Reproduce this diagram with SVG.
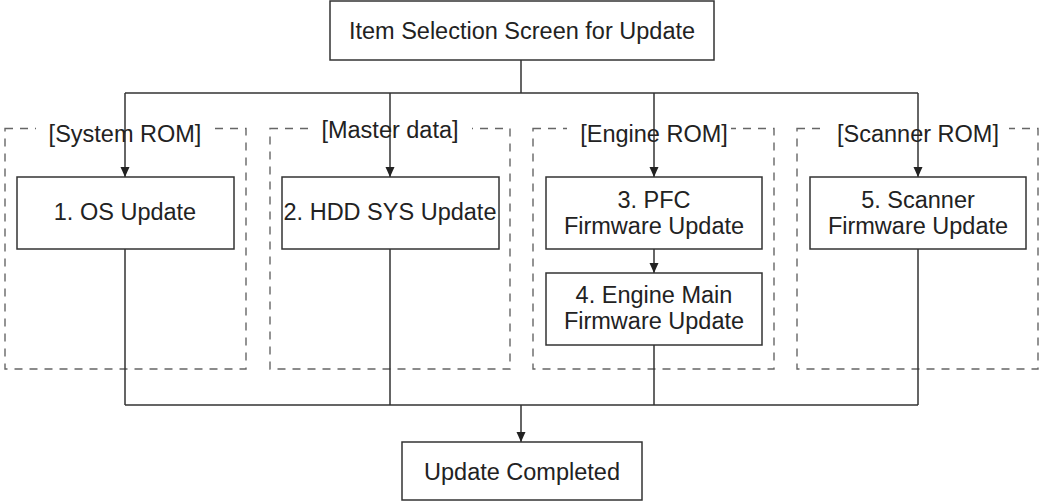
<svg xmlns="http://www.w3.org/2000/svg" width="1040" height="502" viewBox="0 0 1040 502">
<style>
.box{fill:#fff;stroke:#333;stroke-width:1.5}
.grp{fill:none;stroke:#666;stroke-width:1.4;stroke-dasharray:8 7}
.mask{fill:#fff;stroke:none}
.ln{fill:none;stroke:#333;stroke-width:1.5}
text{font-family:"Liberation Sans",Arial,sans-serif;font-size:23.5px;fill:#222;text-anchor:middle}
</style>
<defs>
<marker id="ah" markerUnits="userSpaceOnUse" markerWidth="10" markerHeight="10" refX="10" refY="4.5" orient="auto">
<path d="M0,0 L10,4.5 L0,9 Z" fill="#222"/>
</marker>
</defs>
<rect width="1040" height="502" fill="#fff"/>
<g id="groups">
<rect class="grp" x="5" y="128.5" width="241" height="240.5"/>
<rect class="grp" x="270" y="128.5" width="240" height="240.5"/>
<rect class="grp" x="533" y="128.5" width="241" height="240.5"/>
<rect class="grp" x="797" y="128.5" width="241" height="240.5"/>
<rect class="mask" x="36" y="124" width="174" height="10"/>
<rect class="mask" x="314" y="124" width="158" height="10"/>
<rect class="mask" x="567" y="124" width="164" height="10"/>
<rect class="mask" x="824" y="124" width="185" height="10"/>
</g>
<g id="connectors">
<path class="ln" d="M521,60 V93 M125,93 H918"/>
<path class="ln" d="M125,93 V177" marker-end="url(#ah)"/>
<path class="ln" d="M390,93 V177" marker-end="url(#ah)"/>
<path class="ln" d="M654,93 V177" marker-end="url(#ah)"/>
<path class="ln" d="M918,93 V177" marker-end="url(#ah)"/>
<path class="ln" d="M654,249 V273" marker-end="url(#ah)"/>
<path class="ln" d="M125,249 V405 M390,249 V405 M654,345 V405 M918,249 V405 M125,405 H918"/>
<path class="ln" d="M521,405 V442" marker-end="url(#ah)"/>
</g>
<g id="labels">
<text x="125" y="142">[System ROM]</text>
<text x="390" y="138">[Master data]</text>
<text x="654" y="142">[Engine ROM]</text>
<text x="918" y="142">[Scanner ROM]</text>
</g>
<g id="n-start">
<rect class="box" x="330" y="1" width="384" height="59"/>
<text x="522" y="39">Item Selection Screen for Update</text>
</g>
<g id="n-os">
<rect class="box" x="17" y="177" width="217" height="72"/>
<text x="125" y="220">1. OS Update</text>
</g>
<g id="n-hdd">
<rect class="box" x="282" y="177" width="217" height="72"/>
<text x="390" y="220">2. HDD SYS Update</text>
</g>
<g id="n-pfc">
<rect class="box" x="546" y="177" width="216" height="72"/>
<text x="654" y="208">3. PFC</text>
<text x="654" y="234">Firmware Update</text>
</g>
<g id="n-engine">
<rect class="box" x="546" y="273" width="216" height="72"/>
<text x="654" y="303">4. Engine Main</text>
<text x="654" y="329">Firmware Update</text>
</g>
<g id="n-scanner">
<rect class="box" x="810" y="177" width="216" height="72"/>
<text x="918" y="208">5. Scanner</text>
<text x="918" y="234">Firmware Update</text>
</g>
<g id="n-done">
<rect class="box" x="402" y="442" width="240" height="58"/>
<text x="522" y="480">Update Completed</text>
</g>
</svg>
